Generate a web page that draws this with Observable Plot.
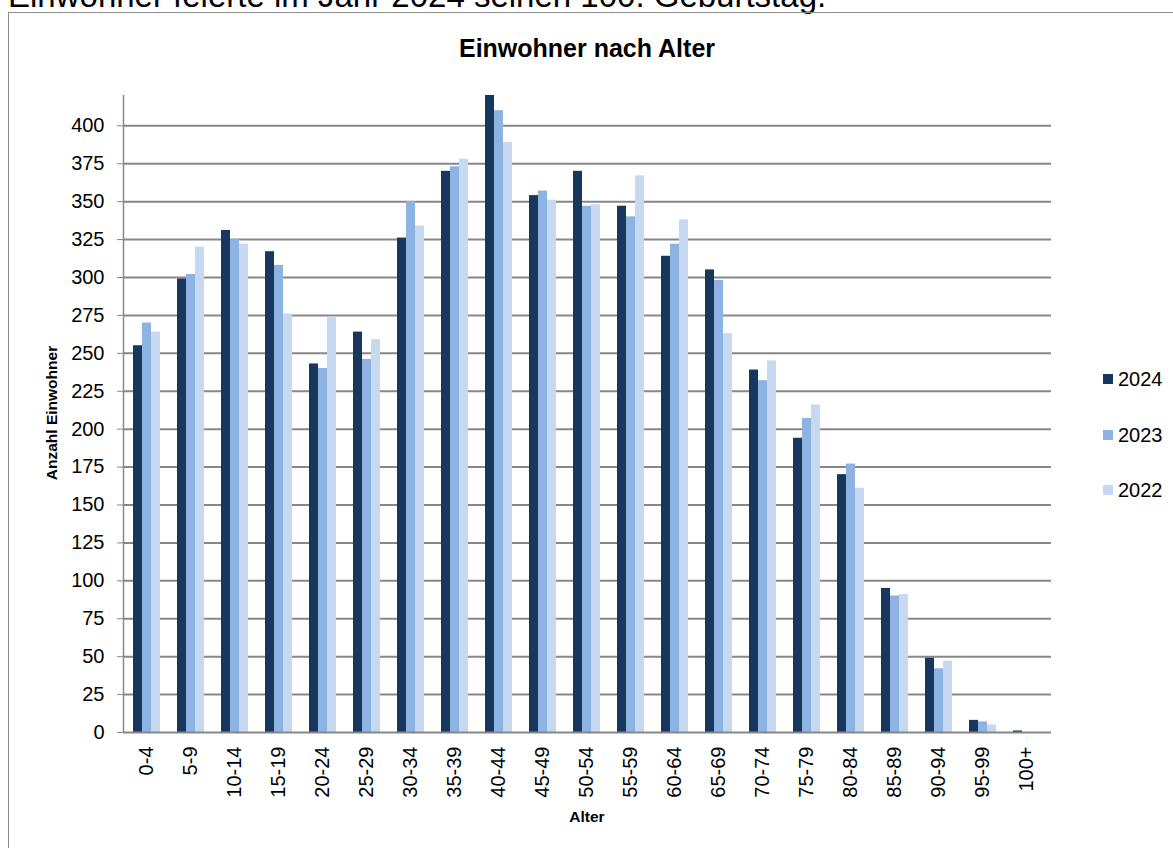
<!DOCTYPE html>
<html>
<head>
<meta charset="utf-8">
<script src="https://cdn.jsdelivr.net/npm/d3@7"></script>
<script src="https://cdn.jsdelivr.net/npm/@observablehq/plot@0.6"></script>
<style>
  html, body { margin: 0; padding: 0; background: #fff; }
  body { width: 1173px; height: 848px; overflow: hidden; position: relative; font-family: "Liberation Sans", Arial, sans-serif; }
  #topline { position: absolute; left: 8px; top: -21px; font-size: 33px; line-height: 33px; white-space: nowrap; color: #000; }
  #box { position: absolute; left: 8px; top: 12px; width: 1200px; height: 900px; border: 1.5px solid #8c8c8c; box-sizing: border-box; }
  .layer { position: absolute; left: 0; top: 0; }
  #title { position: absolute; left: 0; width: 1174px; top: 34px; text-align: center; font-weight: bold; font-size: 25px; line-height: 28px; color: #000; }
  #ylab { position: absolute; left: 52px; top: 413px; transform: translate(-50%, -50%) rotate(-90deg); font-weight: bold; font-size: 15.5px; white-space: nowrap; }
  #xlab { position: absolute; left: 587px; top: 817px; transform: translate(-50%, -50%); font-weight: bold; font-size: 15.5px; white-space: nowrap; }
  .leg { position: absolute; left: 1103px; height: 24px; display: flex; align-items: center; font-size: 20px; transform: translateY(-50%); }
  .leg span.sw { display: inline-block; width: 10px; height: 10px; margin-right: 5px; }
</style>
</head>
<body>
<div id="topline">Einwohner feierte im Jahr 2024 seinen 100. Geburtstag.</div>
<div id="box"></div>
<div id="grid" class="layer"></div>
<div id="bars" class="layer"></div>
<div id="title">Einwohner nach Alter</div>
<div id="ylab">Anzahl Einwohner</div>
<div id="xlab">Alter</div>
<div id="legend"></div>
<script>
const ages = ["0-4","5-9","10-14","15-19","20-24","25-29","30-34","35-39","40-44","45-49","50-54","55-59","60-64","65-69","70-74","75-79","80-84","85-89","90-94","95-99","100+"];
const years = ["2024","2023","2022"];
const v2024 = [255,299,331,317,243,264,326,370,420,354,370,347,314,305,239,194,170,95,49,8,1];
const v2023 = [270,302,325,308,240,246,350,373,410,357,347,340,322,298,232,207,177,90,42,7,0];
const v2022 = [264,320,322,276,274,259,334,378,389,351,348,367,338,263,245,216,161,91,47,5,0];
const colors = ["#17375e","#8db3e2","#c6d9f1"];
const yTicks = d3.range(0, 401, 25);
const legendY = [379, 435, 490];

const series = {"2024": v2024, "2023": v2023, "2022": v2022};
const data = ages.flatMap((a, i) => years.map(y => ({age: a, year: y, value: series[y][i]})));

const common = {
  width: 1173,
  height: 848,
  marginLeft: 123,
  marginRight: 122,
  marginTop: 95,
  marginBottom: 116,
  style: {fontFamily: "'Liberation Sans', Arial, sans-serif", fontSize: "20px", background: "transparent", color: "#000", overflow: "visible"}
};

// background layer: grid and y axis
const gridPlot = Plot.plot({
  ...common,
  y: {domain: [0, 420], axis: null},
  marks: [
    Plot.ruleY(yTicks.filter(d => d > 0), {stroke: "#878787", strokeWidth: 2}),
    Plot.axisY({ticks: yTicks, tickSize: 6, tickPadding: 13, stroke: "#878787", strokeOpacity: 1, fontSize: 20, fill: "#000", label: null})
  ]
});
document.getElementById("grid").appendChild(gridPlot);

// bar layer (faceted by age group)
const barPlot = Plot.plot({
  ...common,
  fx: {domain: ages, paddingInner: 0.34, paddingOuter: 0.17, label: null},
  x: {domain: years, padding: 0, axis: null},
  y: {domain: [0, 420], axis: null},
  color: {domain: years, range: colors},
  marks: [
    Plot.barY(data, {fx: "age", x: "year", y: "value", fill: "year"}),
    Plot.axisFx({anchor: "bottom", tickRotate: -90, tickSize: 0, tickPadding: 14, fontSize: 20, fill: "#000", label: null})
  ]
});
document.getElementById("bars").appendChild(barPlot);

// axis lines on top
const linePlot = Plot.plot({
  ...common,
  y: {domain: [0, 420], axis: null},
  marks: [
    Plot.ruleY([0], {stroke: "#878787", strokeWidth: 2}),
    Plot.frame({anchor: "left", stroke: "#878787", strokeWidth: 1.5})
  ]
});
const lineDiv = document.createElement("div");
lineDiv.className = "layer";
lineDiv.appendChild(linePlot);
document.getElementById("bars").after(lineDiv);

const leg = document.getElementById("legend");
years.forEach((y, i) => {
  const d = document.createElement("div");
  d.className = "leg";
  d.style.top = legendY[i] + "px";
  d.innerHTML = `<span class="sw" style="background:${colors[i]}"></span><span>${y}</span>`;
  leg.appendChild(d);
});
</script>
</body>
</html>
